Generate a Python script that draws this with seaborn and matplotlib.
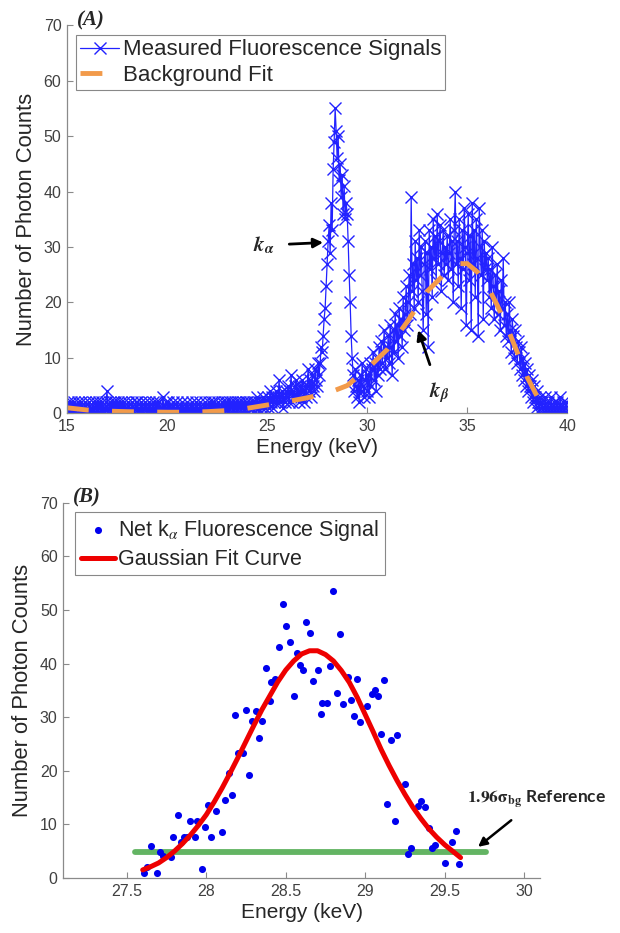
import numpy as np
import pandas as pd
import seaborn as sns
import matplotlib.pyplot as plt

# panel A: measured spectrum, one channel every 0.05 keV from 15 to 40 keV
energy_a = np.round(np.arange(15.0, 40.001, 0.05), 2)
counts_a = [
    1, 2, 0, 1, 2, 1, 0, 2, 1, 0, 1, 2, 1, 0, 2, 1, 0, 1, 2, 0,   # 15
    1, 0, 2, 1, 0, 1, 2, 0, 1, 2, 0, 1, 2, 1, 0, 2, 1, 0, 1, 2,   # 16
    4, 1, 0, 2, 1, 0, 2, 1, 2, 0, 1, 2, 0, 1, 2, 1, 0, 2, 1, 0,   # 17
    1, 2, 0, 1, 0, 2, 1, 0, 1, 2, 2, 0, 1, 0, 2, 1, 0, 1, 2, 1,   # 18
    0, 1, 2, 0, 1, 0, 2, 1, 0, 2, 1, 0, 2, 1, 0, 1, 3, 0, 1, 2,   # 19
    1, 2, 0, 1, 0, 1, 2, 0, 1, 0, 2, 1, 0, 1, 0, 2, 1, 0, 1, 0,   # 20
    2, 1, 0, 1, 0, 2, 1, 0, 1, 2, 0, 1, 0, 2, 1, 0, 1, 0, 2, 1,   # 21
    0, 1, 2, 1, 0, 2, 1, 2, 0, 1, 0, 2, 1, 0, 1, 2, 1, 0, 2, 1,   # 22
    2, 1, 0, 2, 1, 2, 0, 1, 2, 1, 0, 2, 1, 2, 0, 1, 2, 0, 1, 2,   # 23
    2, 0, 1, 2, 1, 1, 2, 0, 2, 1, 3, 1, 2, 0, 2, 1, 3, 2, 1, 2,   # 24
    2, 3, 1, 4, 2, 3, 1, 2, 3, 4, 2, 3, 6, 2, 3, 4, 1, 3, 2, 4,   # 25
    3, 5, 2, 4, 7, 2, 4, 3, 5, 6, 3, 4, 2, 5, 3, 6, 4, 2, 5, 3,   # 26
    5, 8, 4, 6, 3, 7, 5, 4, 8, 6, 5, 9, 7, 9, 12, 11, 14, 17, 19, 23,   # 27
    27, 31, 34, 29, 38, 33, 44, 49, 55, 51, 46, 50, 42, 45, 39, 43, 36, 41, 35, 38,   # 28
    36, 31, 25, 20, 14, 10, 7, 4, 8, 5, 3, 6, 2, 7, 4, 9, 5, 3, 6, 8,   # 29
    4, 7, 3, 9, 5, 8, 11, 6, 9, 4, 10, 7, 12, 8, 13, 9, 11, 15, 8, 12,   # 30
    10, 14, 9, 16, 12, 7, 15, 11, 18, 13, 16, 10, 19, 14, 17, 12, 21, 15, 18, 23,   # 31
    16, 20, 25, 18, 39, 22, 27, 19, 31, 24, 28, 20, 33, 25, 30, 22, 15, 27, 31, 18,   # 32
    29, 12, 33, 26, 30, 21, 35, 28, 32, 24, 36, 27, 31, 34, 22, 29, 33, 25, 30, 27,   # 33
    32, 24, 29, 35, 26, 31, 20, 33, 40, 27, 31, 23, 35, 28, 19, 33, 26, 37, 30, 16,   # 34
    29, 36, 24, 32, 15, 38, 27, 33, 21, 35, 28, 14, 37, 30, 25, 33, 17, 31, 26, 29,   # 35
    24, 28, 21, 26, 19, 30, 23, 17, 25, 20, 27, 18, 22, 15, 24, 19, 28, 16, 20, 14,   # 36
    18, 13, 20, 15, 11, 17, 14, 10, 15, 12, 9, 13, 11, 8, 12, 7, 10, 6, 9, 5,   # 37
    8, 4, 7, 5, 3, 6, 2, 5, 3, 1, 4, 2, 0, 3, 1, 2, 0, 1, 3, 0,   # 38
    1, 2, 0, 1, 3, 0, 1, 2, 0, 1, 2, 0, 1, 3, 0, 1, 2, 0, 1, 2,   # 39
    0,
]

# background fit
bg_energy = [15, 16, 17, 18, 19, 20, 21, 22, 23, 24, 25, 26, 27, 28, 29, 30, 31, 32,
             33, 34, 34.5, 35, 35.5, 36, 36.5, 37, 37.5, 38, 38.5, 39]
bg_counts = [1.0, 0.6, 0.4, 0.3, 0.25, 0.2, 0.2, 0.3, 0.5, 0.9, 1.5, 2.1, 2.8, 3.6, 5.0, 8.0,
             11.5, 16.5, 22.0, 25.6, 27.0, 27.0, 25.5, 23.0, 19.5, 15.5, 11.0, 6.5, 3.0, 0.5]

# panel B: net k-alpha counts
net_energy = [27.61, 27.63, 27.65, 27.69, 27.71, 27.73, 27.775, 27.79, 27.82, 27.84, 27.86, 27.88,
              27.90, 27.93, 27.94, 27.97, 27.99, 28.01, 28.03, 28.06, 28.10, 28.12, 28.14, 28.16,
              28.18, 28.20, 28.23, 28.25, 28.27, 28.29, 28.31, 28.33, 28.35, 28.375, 28.40, 28.41,
              28.43, 28.46, 28.48, 28.50, 28.525, 28.55, 28.57, 28.59, 28.61, 28.63, 28.65, 28.67,
              28.70, 28.72, 28.73, 28.76, 28.78, 28.80, 28.82, 28.84, 28.86, 28.89, 28.91, 28.93,
              28.95, 28.97, 29.01, 29.04, 29.06, 29.08, 29.10, 29.12, 29.14, 29.16, 29.19, 29.20,
              29.25, 29.27, 29.29, 29.33, 29.35, 29.375, 29.40, 29.42, 29.44, 29.50, 29.545, 29.57,
              29.59]
net_counts = [0.9, 2.0, 6.0, 0.9, 4.9, 4.1, 3.9, 7.7, 11.7, 6.8, 7.7, 7.7,
              10.7, 7.7, 10.7, 1.7, 9.6, 13.6, 7.6, 12.5, 8.5, 14.5, 19.6, 15.5,
              30.4, 23.4, 23.4, 31.3, 19.3, 29.3, 31.2, 26.2, 29.3, 39.1, 33.1, 36.5,
              37.1, 43.1, 51.1, 47.0, 44.0, 33.9, 42.0, 39.8, 38.9, 47.8, 45.8, 36.8,
              38.8, 30.6, 32.6, 32.6, 39.5, 53.6, 34.5, 45.5, 32.4, 37.5, 33.3, 30.3,
              37.2, 29.1, 32.1, 34.3, 35.0, 34.0, 26.9, 36.9, 13.8, 25.8, 10.6, 26.7,
              17.6, 4.4, 5.5, 13.4, 14.4, 13.2, 9.4, 5.5, 6.1, 2.8, 6.7, 8.7,
              2.6]

# gaussian fit curve
fit_energy = [27.60, 27.65, 27.70, 27.75, 27.80, 27.85, 27.90, 27.95, 28.00, 28.05, 28.10,
              28.15, 28.20, 28.25, 28.30, 28.35, 28.40, 28.45, 28.50, 28.55, 28.60, 28.65,
              28.70, 28.75, 28.80, 28.85, 28.90, 28.95, 29.00, 29.05, 29.10, 29.15, 29.20,
              29.25, 29.30, 29.35, 29.40, 29.45, 29.50, 29.55, 29.60]
fit_counts = [1.5, 2.1, 2.8, 3.8, 5.0, 6.4, 8.0, 9.8, 11.8, 14.2, 16.8,
              19.6, 22.5, 25.5, 28.5, 31.4, 34.0, 36.6, 38.8, 40.5, 41.8, 42.4,
              42.4, 41.7, 40.5, 38.7, 36.5, 33.7, 30.5, 27.3, 24.0, 21.0, 18.2,
              15.6, 13.2, 11.1, 9.2, 7.6, 6.2, 5.0, 3.8]

ref_energy = [27.55, 29.76]
ref_counts = [4.8, 4.8]

sns.set_theme(style='white')
plt.rcParams['font.family'] = ['Liberation Sans', 'DejaVu Sans']
plt.rcParams['mathtext.fontset'] = 'stix'

spec = pd.DataFrame({'energy': energy_a, 'counts': counts_a})
bg = pd.DataFrame({'energy': bg_energy, 'counts': bg_counts})
net = pd.DataFrame({'energy': net_energy, 'counts': net_counts})
fit = pd.DataFrame({'energy': fit_energy, 'counts': fit_counts})
ref = pd.DataFrame({'energy': ref_energy, 'counts': ref_counts})

fig = plt.figure(figsize=(6.2, 9.33), dpi=100)
ax1 = fig.add_axes([0.108, 0.557, 0.807, 0.416])
ax2 = fig.add_axes([0.102, 0.059, 0.769, 0.402])


def style_axis(ax):
    for s in ['top', 'right']:
        ax.spines[s].set_visible(False)
    for s in ['left', 'bottom']:
        ax.spines[s].set_color('#8a8a8a')
        ax.spines[s].set_linewidth(0.9)
    ax.tick_params(direction='in', length=4, width=0.8, color='#8a8a8a',
                   labelsize=11.5, labelcolor='#404040', left=True, bottom=True, pad=4)
    ax.set_ylabel('Number of Photon Counts', fontsize=15.8, color='#262626', labelpad=5)
    ax.set_xlabel('Energy (keV)', fontsize=15, color='#262626', labelpad=3)


# (A) measured spectrum with background fit
blue = '#2222ff'
sns.lineplot(data=spec, x='energy', y='counts', ax=ax1, color=blue, lw=0.9,
             marker='x', markersize=8.5, markeredgewidth=1.0, markeredgecolor=blue,
             estimator=None, label='Measured Fluorescence Signals')
sns.lineplot(data=bg, x='energy', y='counts', ax=ax1, color='#f29a4a', lw=3.5,
             estimator=None, label='Background Fit')
ax1.lines[-1].set_dashes((4.5, 4.8))
ax1.set_xlim(15, 40)
ax1.set_ylim(0, 70)
ax1.set_xticks([15, 20, 25, 30, 35, 40])
ax1.set_yticks(range(0, 71, 10))
style_axis(ax1)
leg1 = ax1.legend(loc='upper left', bbox_to_anchor=(0.018, 0.975), fontsize=16,
                  frameon=True, fancybox=False, framealpha=1, edgecolor='#888888',
                  handlelength=1.75, handletextpad=0.15, borderpad=0.2, labelspacing=0.2,
                  borderaxespad=0)
leg1.get_frame().set_linewidth(0.8)

ax1.annotate(r'$\mathbfit{k}_{\mathbfit{\alpha}}$', xy=(27.8, 30.8), xytext=(24.85, 30.3),
             fontsize=15, ha='center', va='center',
             arrowprops=dict(arrowstyle='-|>', color='black', lw=2, mutation_scale=14,
                             shrinkA=8, shrinkB=0))
ax1.annotate(r'$\mathbfit{k}_{\mathbfit{\beta}}$', xy=(32.55, 15.0), xytext=(33.6, 3.8),
             fontsize=15, ha='center', va='center',
             arrowprops=dict(arrowstyle='-|>', color='black', lw=2, mutation_scale=14,
                             shrinkA=9, shrinkB=0))
ax1.text(0.02, 1.013, '(A)', transform=ax1.transAxes, fontsize=15, fontweight='bold',
         fontstyle='italic', family='Liberation Serif', ha='left', va='center')

# (B) net k-alpha signal with gaussian fit
sns.lineplot(data=ref, x='energy', y='counts', ax=ax2, color='#63b463', lw=4.2,
             estimator=None)
sns.scatterplot(data=net, x='energy', y='counts', ax=ax2, color='#0000ee', s=26,
                linewidth=0, label=r'Net k$_{\alpha}$ Fluorescence Signal', zorder=3)
sns.lineplot(data=fit, x='energy', y='counts', ax=ax2, color='#ee0000', lw=3.6,
             estimator=None, label='Gaussian Fit Curve', zorder=4)
ax2.set_xlim(27.1, 30.1)
ax2.set_ylim(0, 70)
ax2.set_xticks([27.5, 28, 28.5, 29, 29.5, 30])
ax2.set_xticklabels(['27.5', '28', '28.5', '29', '29.5', '30'])
ax2.set_yticks(range(0, 71, 10))
style_axis(ax2)
leg2 = ax2.legend(loc='upper left', bbox_to_anchor=(0.025, 0.975), fontsize=15.5,
                  frameon=True, fancybox=False, framealpha=1, edgecolor='#888888',
                  handlelength=1.6, handletextpad=0.15, borderpad=0.25, labelspacing=0.3,
                  borderaxespad=0)
leg2.get_frame().set_linewidth(0.8)

ax2.annotate(r'$\mathbf{1.96\sigma_{bg}}$ Reference', xy=(29.71, 5.8), xytext=(30.08, 14.6),
             fontsize=12.5, fontweight='bold', family='Lato', ha='center', va='center',
             annotation_clip=False,
             arrowprops=dict(arrowstyle='-|>', color='black', lw=1.8, mutation_scale=13,
                             shrinkA=7, shrinkB=0))
ax2.text(0.02, 1.015, '(B)', transform=ax2.transAxes, fontsize=15, fontweight='bold',
         fontstyle='italic', family='Liberation Serif', ha='left', va='center')

fig.savefig('out.png', dpi=100)
